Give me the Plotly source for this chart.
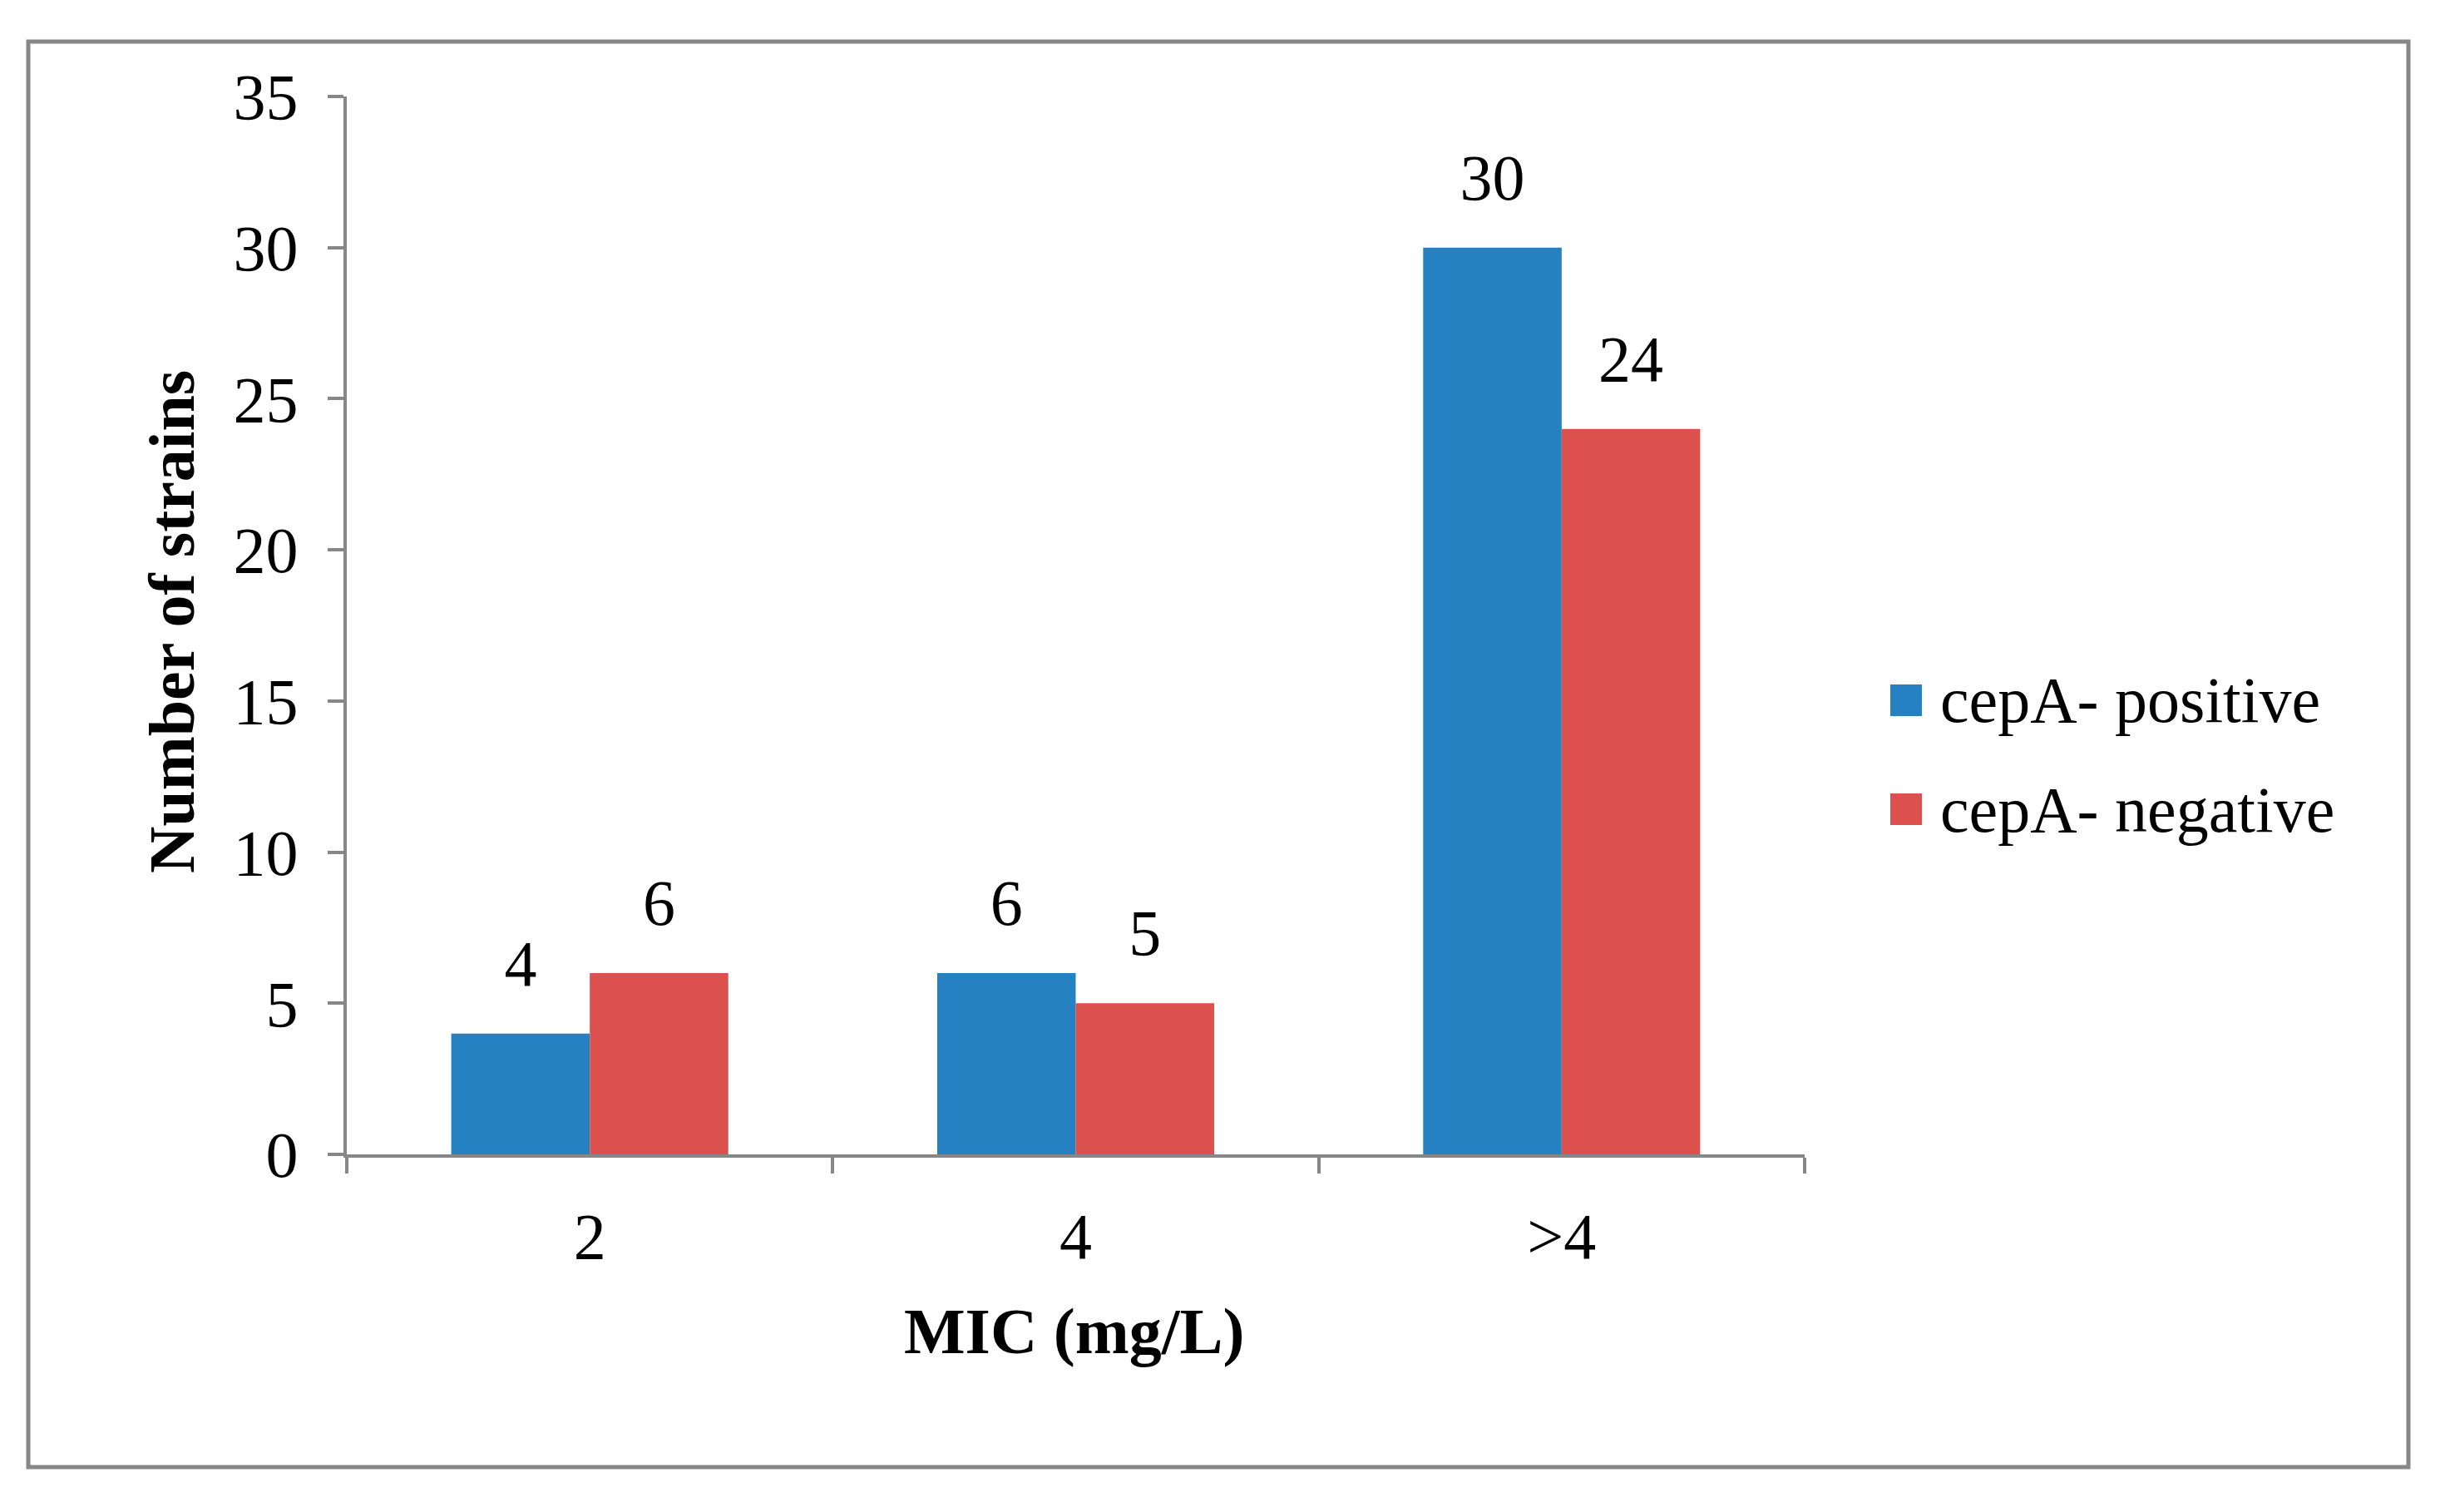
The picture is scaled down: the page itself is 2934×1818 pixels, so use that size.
import plotly.graph_objects as go

# data
mic_levels = ["2", "4", ">4"]
series_names = ["cepA- positive", "cepA- negative"]
positive_counts = [4, 6, 30]
negative_counts = [6, 5, 24]
y_ticks = [0, 5, 10, 15, 20, 25, 30, 35]

BLUE = "#2581c2"
RED = "#dc514e"
GREY = "#878787"
FONT = "Liberation Serif"
FS = 78

# canvas and plot area in pixels
W, H = 2934, 1818
L, R, T, B = 417, 2170, 116, 1388


def px(x):
    return (x - L) / (R - L)


def py(y):
    return (B - y) / (B - T)


fig = go.Figure()
for name, vals, col, grp in zip(series_names, [positive_counts, negative_counts],
                                [BLUE, RED], ["pos", "neg"]):
    fig.add_trace(go.Bar(x=mic_levels, y=vals, name=name, marker_color=col,
                         marker_line_width=0, offsetgroup=grp, showlegend=False))
    # value labels above the bars
    fig.add_trace(go.Scatter(x=mic_levels, y=vals, mode="markers+text",
                             text=[str(v) for v in vals], textposition="top center",
                             marker=dict(size=60, opacity=0), offsetgroup=grp,
                             cliponaxis=False, showlegend=False,
                             textfont=dict(family=FONT, size=FS, color="black")))

fig.update_layout(
    width=W, height=H,
    margin=dict(l=L, r=W - R, t=T, b=H - B),
    paper_bgcolor="white", plot_bgcolor="white",
    barmode="group", bargap=0.43, bargroupgap=0, scattermode="group",
    font=dict(family=FONT, size=FS, color="black"),
    showlegend=False,
)
fig.update_xaxes(type="category", tickson="boundaries", ticks="outside", ticklen=19,
                 tickwidth=4, tickcolor=GREY, showline=True, linecolor=GREY, linewidth=4,
                 showgrid=False, ticklabelstandoff=27, range=[-0.5, 2.5])
fig.update_yaxes(range=[0, 35], tickvals=y_ticks, ticks="outside", ticklen=19,
                 tickwidth=4, tickcolor=GREY, showline=True, linecolor=GREY, linewidth=4,
                 showgrid=False, zeroline=False, ticklabelstandoff=20)

# outer frame
fig.add_shape(type="rect", xref="paper", yref="paper",
              x0=px(34), x1=px(2896), y0=py(1764), y1=py(50),
              line=dict(color=GREY, width=5), fillcolor="rgba(0,0,0,0)")

# axis titles
fig.add_annotation(text="<b>Number of strains</b>", xref="paper", yref="paper",
                   x=px(206), y=py(748), xanchor="center", yanchor="middle",
                   textangle=-90, showarrow=False,
                   font=dict(family=FONT, size=FS, color="black"))
fig.add_annotation(text="<b>MIC (mg/L)</b>", xref="paper", yref="paper",
                   x=px(1291), y=py(1600), xanchor="center", yanchor="middle",
                   showarrow=False, font=dict(family=FONT, size=FS, color="black"))

# legend
for name, col, cy in zip(series_names, [BLUE, RED], [842, 973]):
    fig.add_shape(type="rect", xref="paper", yref="paper",
                  x0=px(2273), x1=px(2311), y0=py(cy + 19), y1=py(cy - 19),
                  line_width=0, fillcolor=col)
    fig.add_annotation(text=name, xref="paper", yref="paper", x=px(2331), y=py(cy),
                       xanchor="left", yanchor="middle", showarrow=False,
                       font=dict(family=FONT, size=FS, color="black"))

fig.write_html("out.html", config={"displayModeBar": False},
               post_script="document.body.style.margin='0';")
